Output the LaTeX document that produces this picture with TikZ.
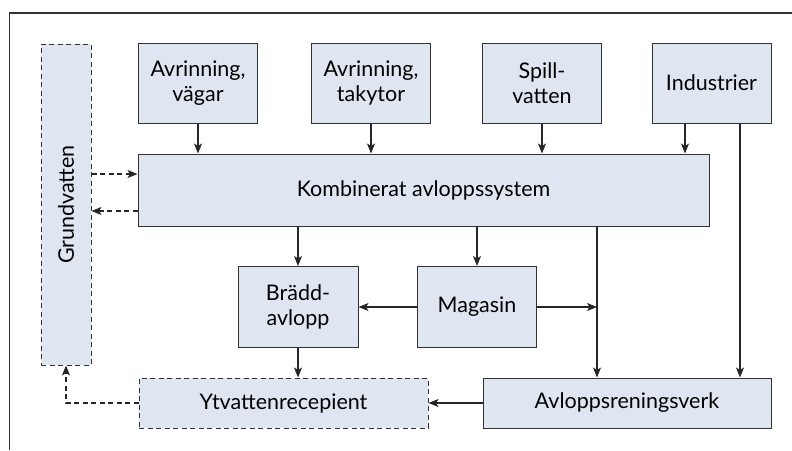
\documentclass[tikz,border=0pt]{standalone}
\usepackage{fontspec}
\setmainfont{Lato}
\usepackage{tikz}
\usetikzlibrary{arrows.meta}
\definecolor{boxfill}{HTML}{DFE6F2}
\definecolor{linegray}{HTML}{333333}

\begin{document}
\begin{tikzpicture}[x=1pt,y=-1pt]
    \tikzset{vertex/.style = {shape=rectangle,draw=linegray,fill=boxfill,inner sep=0pt,line width=1pt,
        align=center,font=\fontsize{21.5}{25}\selectfont,text=black}}
    \tikzset{dvertex/.style = {vertex,dash pattern=on 5pt off 3.5pt}}
    \tikzset{edge/.style = {->,> = {Stealth[length=10pt,width=8pt,inset=2.5pt]},draw=black!85,line width=1.2pt}}
    \tikzset{dedge/.style = {edge,dash pattern=on 5pt off 3.5pt}}
    \useasboundingbox (0,0) rectangle (792,450);
    % frame
    \draw[linegray,line width=1.2pt] (792,13) -- (9.5,13) -- (9.5,450);
    % vertices
    \node[dvertex,minimum width=50,minimum height=321] (grund) at (66,204.5) {\rotatebox{90}{Grundvatten}};
    \node[vertex,minimum width=119,minimum height=80] (vag) at (198,83) {Avrinning,\\vägar};
    \node[vertex,minimum width=119,minimum height=80] (tak) at (371,83) {Avrinning,\\takytor};
    \node[vertex,minimum width=119,minimum height=80] (spill) at (542,83) {Spill-\\vatten};
    \node[vertex,minimum width=119,minimum height=80] (ind) at (711.5,83) {Industrier};
    \node[vertex,minimum width=571,minimum height=72] (komb) at (423.5,190) {Kombinerat avloppssystem};
    \node[vertex,minimum width=120,minimum height=81] (bradd) at (298,307) {Brädd-\\avlopp};
    \node[vertex,minimum width=119,minimum height=81] (mag) at (477,307) {Magasin};
    \node[dvertex,minimum width=289,minimum height=50] (yt) at (283.5,403) {Ytvattenrecepient};
    \node[vertex,minimum width=288,minimum height=50] (avl) at (627,403) {Avloppsreningsverk};
    \coordinate (join) at ([xshift=-30pt]avl.north);
    % edges
    \draw[edge] (vag) -- (vag |- komb.north);
    \draw[edge] (tak) -- (tak |- komb.north);
    \draw[edge] (spill) -- (spill |- komb.north);
    \draw[edge] ([xshift=-26.5pt]ind.south) -- ([xshift=-26.5pt]ind.south |- komb.north);
    \draw[edge] ([xshift=28.5pt]ind.south) -- ([xshift=28.5pt]ind.south |- avl.north);
    \draw[dedge] (grund.east |- 0,174) -- ([yshift=16pt]komb.west);
    \draw[dedge] ([yshift=-21pt]komb.west) -- (grund.east |- 0,211);
    \draw[edge] (bradd.north |- komb.south) -- (bradd);
    \draw[edge] (mag.north |- komb.south) -- (mag);
    \draw[edge] (join |- komb.south) -- (join);
    \draw[edge] (mag) -- (bradd);
    \draw[edge] (mag) -- (mag -| join);
    \draw[edge] (bradd.south) -- (bradd.south |- yt.north);
    \draw[edge] (avl) -- (yt);
    \draw[dedge] (yt) -| (grund);
\end{tikzpicture}
\end{document}
